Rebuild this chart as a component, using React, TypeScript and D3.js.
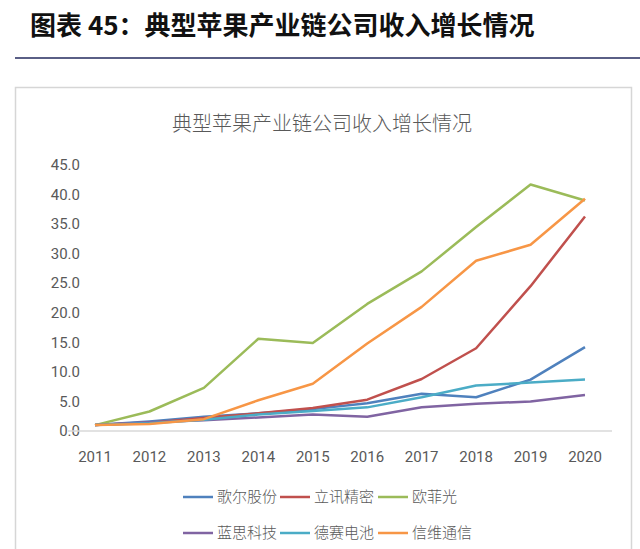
import React from "react";
import * as d3 from "d3";

const years = ["2011", "2012", "2013", "2014", "2015", "2016", "2017", "2018", "2019", "2020"];
const yTicks = [0, 5, 10, 15, 20, 25, 30, 35, 40, 45];

const seriesNames = ["歌尔股份", "立讯精密", "欧菲光", "蓝思科技", "德赛电池", "信维通信"];
const seriesColors = ["#4F81BD", "#C0504D", "#9BBB59", "#8064A2", "#4BACC6", "#F79646"];

const goertek = [1.0, 1.6, 2.4, 3.0, 3.7, 4.7, 6.3, 5.7, 8.7, 14.2];
const luxshare = [1.0, 1.4, 2.2, 3.0, 3.9, 5.3, 8.8, 14.0, 24.5, 36.3];
const ofilm = [1.0, 3.3, 7.3, 15.6, 14.9, 21.5, 27.0, 34.5, 41.7, 39.0];
const lens = [1.0, 1.5, 1.8, 2.3, 2.8, 2.4, 4.0, 4.6, 5.0, 6.1];
const desay = [1.0, 1.3, 1.9, 2.8, 3.4, 4.0, 5.7, 7.7, 8.2, 8.7];
const sunway = [1.0, 1.2, 2.0, 5.2, 8.0, 14.8, 21.0, 28.8, 31.5, 39.3];

const seriesValues = [goertek, luxshare, ofilm, lens, desay, sunway];

const pageTitle = "图表 45：典型苹果产业链公司收入增长情况";
const chartTitle = "典型苹果产业链公司收入增长情况";

export default function App() {
  const W = 640, H = 549;
  const x = d3.scalePoint<string>().domain(years).range([95, 585]);
  const y = d3.scaleLinear().domain([0, 45]).range([431, 165]);
  const line = d3.line<number>()
    .x((_, i) => x(years[i]) as number)
    .y((d) => y(d));

  const tickFont = "'Liberation Sans Narrow', 'Roboto', sans-serif";
  const cjk = "'Noto Sans CJK SC', sans-serif";

  // legend layout
  const legendRows = [[0, 1, 2], [3, 4, 5]];
  const legendX = [183, 280, 378];
  const legendY = [497, 533];

  return (
    <svg width={W} height={H} style={{ position: "absolute", left: 0, top: 0, background: "#fff" }}>
      <rect x={0} y={0} width={W} height={H} fill="#fff" />
      <text x={30} y={35} fontFamily={cjk} fontWeight={700} fontSize={26} fill="#111">{pageTitle}</text>
      <line x1={15} x2={640} y1={58} y2={58} stroke="#5a5f86" strokeWidth={2} />
      <rect x={15.5} y={87.5} width={616} height={480} fill="#fff" stroke="#d6d6d6" strokeWidth={1.5} />
      <text x={322} y={131} textAnchor="middle" fontFamily={cjk} fontWeight={300} fontSize={20} fill="#595959">{chartTitle}</text>

      {yTicks.map((t) => (
        <text key={t} x={80} y={y(t)} dy="0.35em" textAnchor="end" fontFamily={tickFont} fontSize={15} fill="#595959">
          {t.toFixed(1)}
        </text>
      ))}
      <line x1={68} x2={612} y1={y(0)} y2={y(0)} stroke="#d9d9d9" strokeWidth={1.5} />
      {years.map((yr) => (
        <text key={yr} x={x(yr)} y={462} textAnchor="middle" fontFamily={tickFont} fontSize={15} fill="#595959">
          {yr}
        </text>
      ))}

      {seriesValues.map((vals, i) => (
        <path key={seriesNames[i]} d={line(vals) || ""} fill="none" stroke={seriesColors[i]} strokeWidth={2.5} strokeLinejoin="round" />
      ))}

      {legendRows.map((row, r) =>
        row.map((si, c) => (
          <g key={si}>
            <line x1={legendX[c]} x2={legendX[c] + 30} y1={legendY[r]} y2={legendY[r]} stroke={seriesColors[si]} strokeWidth={2.5} />
            <text x={legendX[c] + 34} y={legendY[r]} dy="0.35em" fontFamily={cjk} fontWeight={300} fontSize={15} fill="#595959">
              {seriesNames[si]}
            </text>
          </g>
        ))
      )}
    </svg>
  );
}
